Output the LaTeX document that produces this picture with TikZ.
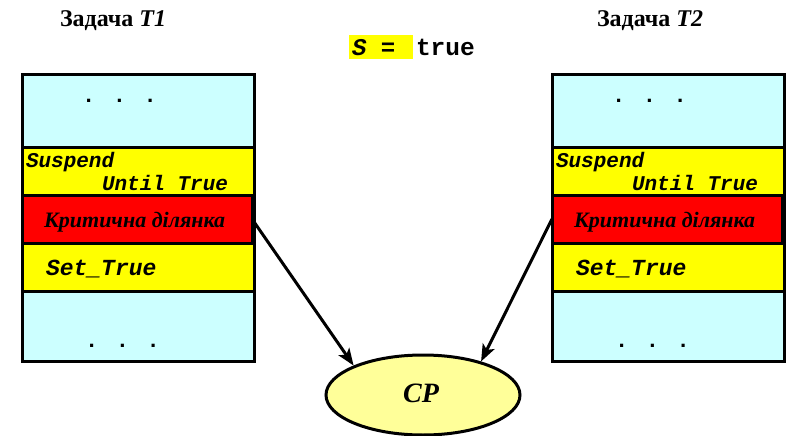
\documentclass[tikz,border=0pt]{standalone}
\usepackage{fontspec}
\setmainfont{Liberation Serif}
\newfontfamily\codefont{Liberation Mono}
\usetikzlibrary{shapes.geometric,arrows.meta}

\definecolor{paleCyan}{HTML}{CCFFFF}
\definecolor{hiYellow}{HTML}{FFFF00}
\definecolor{hotRed}{HTML}{FF0000}
\definecolor{softYellow}{HTML}{FFFF99}

\tikzset{
  cell/.style={draw, line width=3pt, anchor=north west, inner sep=0pt, outer sep=0pt},
  txt/.style={anchor=base west, inner sep=0pt, outer sep=0pt},
  code/.style={txt, font=\codefont\bfseries\itshape\fontsize{#1}{#1}\selectfont},
  dots/.style={txt, font=\codefont\bfseries\fontsize{22}{22}\selectfont},
  title/.style={txt, font=\bfseries\fontsize{24}{24}\selectfont},
  link/.style={line width=3pt, -{Stealth[length=17pt,width=13pt,inset=4pt]}},
  % one task: five stacked rows with their contents
  taskcol/.pic={
    \node[cell, fill=paleCyan, minimum width=232pt, minimum height=72pt] (-top) at (0,0) {};
    \node[cell, fill=hiYellow, minimum width=232pt, minimum height=48pt] (-wait) at (0,72) {};
    \node[cell, fill=hotRed,   minimum width=230pt, minimum height=48pt] (-crit) at (0,120) {};
    \node[cell, fill=hiYellow, minimum width=232pt, minimum height=48pt] (-set) at (0,168) {};
    \node[cell, fill=paleCyan, minimum width=232pt, minimum height=70pt] (-end) at (0,216) {};
    \draw[line width=3pt] (-top.north west) rectangle (-end.south east);
    \node[dots] (-d1) at (60,27) {. . .};
    \node[dots] (-d2) at (63,272) {. . .};
    \node[code=21] (-s1) at (4,92) {Suspend};
    \node[code=21] (-s2) at (80,115) {Until True};
    \node[txt, font=\bfseries\itshape\fontsize{22}{22}\selectfont] (-c) at (22,152) {Критична ділянка};
    \node[code=23] (-st) at (24,200) {Set\_True};
  }
}

\begin{document}
\begin{tikzpicture}[x=1pt, y=-1pt]
  \useasboundingbox (0,0) rectangle (787,436);

  % headings
  \node[title] (t1) at (60,27) {Задача \textit{T1}};
  \node[title] (t2) at (597,27) {Задача \textit{T2}};

  % shared flag
  \node[fill=hiYellow, anchor=north west, minimum width=64pt, minimum height=24pt, inner sep=0pt] (flagbg) at (349,35) {};
  \node[txt, font=\codefont\bfseries\itshape\fontsize{24}{24}\selectfont] (flag) at (352,56) {S =};
  \node[txt, font=\codefont\bfseries\fontsize{24.5}{24.5}\selectfont] (val) at (416,56) {true};

  % the two tasks
  \pic (L) at (22,75) {taskcol};
  \pic (R) at (552,75) {taskcol};

  % shared resource
  \node[ellipse, draw, line width=3pt, fill=softYellow, minimum width=194pt, minimum height=80pt, inner sep=0pt] (cp) at (423,395) {};
  \node[txt, font=\bfseries\itshape\fontsize{28}{28}\selectfont, anchor=base] (cpl) at (421,402) {CP};

  \draw[link] (L-crit.east) -- (cp.157);
  \draw[link] (R-crit.west) -- (cp.30);
\end{tikzpicture}
\end{document}
